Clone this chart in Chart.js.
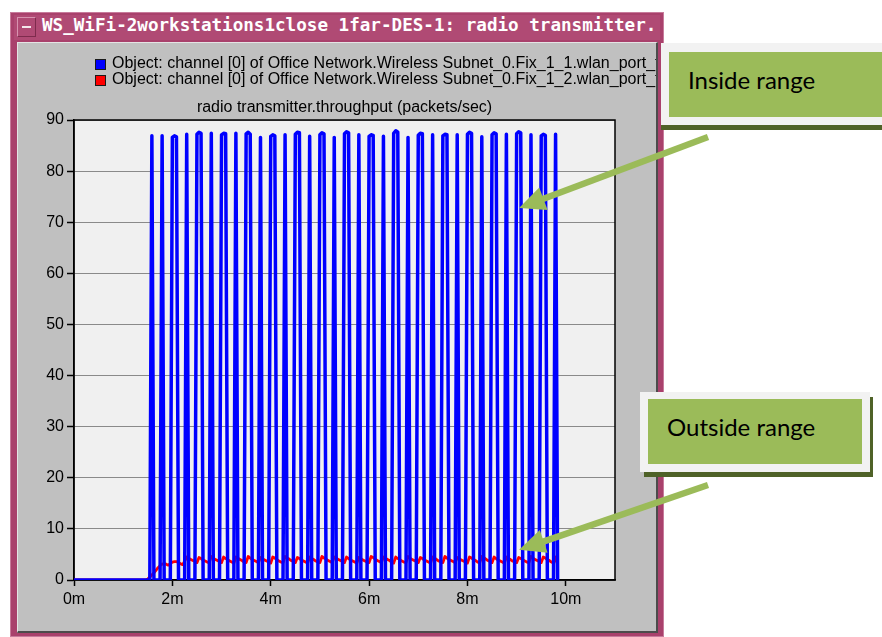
<!DOCTYPE html>
<html>
<head>
<meta charset="utf-8">
<script src="https://cdn.jsdelivr.net/npm/chart.js@4.4.1/dist/chart.umd.min.js"></script>
<style>
  html, body { margin: 0; padding: 0; background: #ffffff; }
  body { width: 882px; height: 637px; position: relative; overflow: hidden; }
  #frame { position: absolute; left: 10px; top: 12px; width: 654px; height: 625px; background: #a9416c; box-shadow: inset 0 0 0 1px #c77b9b; }
  #titlebar { position: absolute; left: 14px; top: 15px; width: 646px; height: 25px; background: #b04a74; overflow: hidden; }
  #titlebtn { position: absolute; left: 3px; top: 2px; width: 19px; height: 20px; box-sizing: border-box; border: 1px solid #d893b0; border-right-color: #7e2b4d; border-bottom-color: #7e2b4d; }
  #titlebtn::after { content: ""; position: absolute; left: 4px; top: 8px; width: 9px; height: 2px; background: #f4e6ec; }
  #titletext { position: absolute; left: 28px; top: 0; height: 25px; line-height: 25px; white-space: nowrap; color: #ffffff; font: bold 17.6px "DejaVu Sans Mono", monospace; }
  #panel { position: absolute; left: 17px; top: 42px; width: 641px; height: 591px; box-sizing: border-box; background: #c0c0c0; border-left: 1px solid #e4e4e4; border-top: 1px solid #e4e4e4; border-right: 2px solid #4c4c4c; border-bottom: 2px solid #4c4c4c; }
  #chart { position: absolute; left: 0; top: 0; }
  .shadow { position: absolute; background: #4f6228; }
  .plate { position: absolute; background: #f2f2f2; }
  .fill { position: absolute; background: #9bbb59; }
  .callout-text { position: absolute; white-space: nowrap; font: 24px "Lato", sans-serif; line-height: 24px; color: #000000; }
</style>
</head>
<body>
<div id="frame"></div>
<div id="titlebar"><div id="titlebtn"></div><div id="titletext">WS_WiFi-2workstations1close 1far-DES-1: radio transmitter.</div></div>
<div id="panel"></div>
<canvas id="chart" width="882" height="637"></canvas>

<!-- callout: inside range -->
<div class="shadow" style="left:661px; top:124px; width:221px; height:6px;"></div>
<div class="plate" style="left:661px; top:43px; width:221px; height:82px;"></div>
<div class="fill" style="left:669px; top:52px; width:213px; height:65px;"></div>
<div class="callout-text" style="left:688px; top:68px;">Inside range</div>

<!-- callout: outside range -->
<div class="shadow" style="left:644px; top:397px; width:229px; height:80px;"></div>
<div class="plate" style="left:640px; top:392px; width:230px; height:80px;"></div>
<div class="fill" style="left:648px; top:399px; width:214px; height:65px;"></div>
<div class="callout-text" style="left:667px; top:415px;">Outside range</div>

<script>
// Throughput samples, one every 2.5 s starting at 0 min (packets/sec)
const sampleSeconds = 2.5;

const seriesLabels = [
  'Object: channel [0] of Office Network.Wireless Subnet_0.Fix_1_1.wlan_port_tx_0_0',
  'Object: channel [0] of Office Network.Wireless Subnet_0.Fix_1_2.wlan_port_tx_0_0'
];

const chartTitle = 'radio transmitter.throughput (packets/sec)';

const xTickValues = [0, 2, 4, 6, 8, 10];
const xTickLabels = ['0m', '2m', '4m', '6m', '8m', '10m'];
const yTickValues = [0, 10, 20, 30, 40, 50, 60, 70, 80, 90];
const yTickLabels = ['0', '10', '20', '30', '40', '50', '60', '70', '80', '90'];

// Fix_1_1 (inside range), one row per 30 s
const insideValues = [
  0, 0, 0, 0, 0, 0, 0, 0, 0, 0, 0, 0,
  0, 0, 0, 0, 0, 0, 0, 0, 0, 0, 0, 0,
  0, 0, 0, 0, 0, 0, 0, 0, 0, 0, 0, 0,
  0, 0, 86.9, 0, 0, 0, 0, 86.9, 0, 0, 0, 0,
  86.6, 86.9, 86.7, 0, 0, 0, 0, 87.2, 0, 0, 0, 0,
  87.2, 87.6, 87.4, 0, 0, 0, 0, 87.4, 0, 0, 0, 0,
  87.1, 87.4, 87.3, 0, 0, 0, 0, 87.4, 0, 0, 0, 0,
  87.3, 87.6, 87.2, 0, 0, 0, 0, 86.6, 0, 0, 0, 0,
  86.8, 87.1, 86.9, 0, 0, 0, 0, 87.1, 0, 0, 0, 0,
  87.2, 87.6, 87.5, 0, 0, 0, 0, 86.8, 0, 0, 0, 0,
  87.1, 87.5, 87.3, 0, 0, 0, 0, 86.6, 0, 0, 0, 0,
  87.3, 87.7, 87.5, 0, 0, 0, 0, 87.1, 0, 0, 0, 0,
  86.8, 87.1, 87.0, 0, 0, 0, 0, 86.8, 0, 0, 0, 0,
  87.4, 87.9, 87.6, 0, 0, 0, 0, 86.6, 0, 0, 0, 0,
  87.0, 87.4, 87.3, 0, 0, 0, 0, 87.1, 0, 0, 0, 0,
  86.9, 87.2, 87.1, 0, 0, 0, 0, 87.1, 0, 0, 0, 0,
  87.2, 87.6, 87.4, 0, 0, 0, 0, 86.7, 0, 0, 0, 0,
  87.1, 87.5, 87.3, 0, 0, 0, 0, 87.2, 0, 0, 0, 0,
  87.3, 87.7, 87.5, 0, 0, 0, 0, 87.1, 0, 0, 0, 0,
  86.9, 87.2, 87.0, 0, 0, 0, 0, 87.2, 0
];

// Fix_1_2 (outside range), one row per 30 s
const outsideValues = [
  0, 0, 0, 0, 0, 0, 0, 0, 0, 0, 0, 0,
  0, 0, 0, 0, 0, 0, 0, 0, 0, 0, 0, 0,
  0, 0, 0, 0, 0, 0, 0, 0, 0, 0, 0, 0,
  0.2, 0.6, 1.0, 1.4, 1.9, 2.4, 2.8, 3.1, 3.2, 3.1, 2.9, 3.2,
  3.5, 3.6, 3.6, 3.4, 3.2, 3.0, 3.7, 4.5, 4.3, 4.0, 3.8, 3.6,
  3.4, 4.4, 4.2, 3.9, 3.7, 3.5, 3.4, 4.6, 4.3, 4.0, 3.8, 3.6,
  3.4, 4.5, 4.2, 4.0, 3.7, 3.5, 3.3, 4.5, 4.3, 4.0, 3.8, 3.5,
  3.4, 4.6, 4.3, 4.0, 3.8, 3.6, 3.4, 4.4, 4.2, 3.9, 3.7, 3.5,
  3.3, 4.5, 4.3, 4.0, 3.7, 3.5, 3.4, 4.6, 4.3, 4.1, 3.8, 3.6,
  3.4, 4.4, 4.2, 3.9, 3.7, 3.5, 3.3, 4.5, 4.2, 4.0, 3.7, 3.5,
  3.4, 4.6, 4.3, 4.1, 3.8, 3.6, 3.4, 4.5, 4.3, 4.0, 3.8, 3.6,
  3.4, 4.5, 4.2, 3.9, 3.7, 3.5, 3.3, 4.4, 4.2, 3.9, 3.7, 3.5,
  3.4, 4.6, 4.4, 4.1, 3.8, 3.6, 3.4, 4.5, 4.3, 4.0, 3.8, 3.5,
  3.3, 4.5, 4.2, 4.0, 3.7, 3.5, 3.4, 4.6, 4.3, 4.0, 3.8, 3.6,
  3.4, 4.4, 4.2, 3.9, 3.7, 3.5, 3.3, 4.5, 4.3, 4.0, 3.7, 3.5,
  3.4, 4.6, 4.3, 4.0, 3.8, 3.6, 3.4, 4.4, 4.2, 3.9, 3.7, 3.5,
  3.3, 4.5, 4.3, 4.0, 3.8, 3.5, 3.4, 4.6, 4.4, 4.1, 3.8, 3.6,
  3.4, 4.5, 4.2, 3.9, 3.7, 3.5, 3.3, 4.5, 4.2, 4.0, 3.7, 3.5,
  3.4, 4.4, 4.2, 4.0, 3.7, 3.5, 3.4, 4.6, 4.3, 4.0, 3.8, 3.6,
  3.4, 4.5, 4.3, 4.0, 3.8, 3.5, 3.3, 4.5, 3.0
];

// Points the callout arrows point at: [minutes, packets/sec]
const arrowTargets = [[9.05, 72.8], [9.05, 5.9]];

const toPoints = vals => vals.map((v, i) => ({ x: i * sampleSeconds / 60, y: v }));

Chart.defaults.font.family = '"Liberation Sans", Arial, sans-serif';
Chart.defaults.font.size = 16;
Chart.defaults.color = '#000000';

// light plot background and the black box around it
const plotFrame = {
  id: 'plotFrame',
  beforeDraw(chart) {
    const { ctx, chartArea: a } = chart;
    ctx.save();
    ctx.fillStyle = '#f0f0f0';
    ctx.fillRect(a.left, a.top, a.right - a.left, a.bottom - a.top);
    ctx.restore();
  },
  beforeDatasetsDraw(chart) {
    const { ctx, chartArea: a } = chart;
    ctx.save();
    ctx.strokeStyle = '#000000';
    ctx.lineWidth = 1.5;
    ctx.strokeRect(a.left, a.top, a.right - a.left, a.bottom - a.top);
    ctx.restore();
  }
};

// series key and the plot title, clipped to the window panel
const headerText = {
  id: 'headerText',
  afterDraw(chart) {
    const { ctx, chartArea: a } = chart;
    ctx.save();
    ctx.beginPath();
    ctx.rect(18, 43, 638, 587);
    ctx.clip();
    ctx.font = '16px "Liberation Sans", Arial, sans-serif';
    ctx.textBaseline = 'middle';
    chart.data.datasets.forEach((ds, i) => {
      const cy = 64 + i * 16;
      ctx.fillStyle = ds.borderColor;
      ctx.fillRect(95, cy - 5, 11, 11);
      ctx.strokeStyle = '#1a1a1a';
      ctx.lineWidth = 1;
      ctx.strokeRect(95.5, cy - 4.5, 10, 10);
      ctx.fillStyle = '#000000';
      ctx.textAlign = 'left';
      ctx.fillText(ds.label, 112, cy);
    });
    ctx.textAlign = 'center';
    ctx.fillText(chartTitle, (a.left + a.right) / 2, a.top - 12);
    ctx.restore();
  }
};

// green arrows from the callout boxes into the plot
const calloutArrows = {
  id: 'calloutArrows',
  afterDraw(chart) {
    const { ctx, scales: { x, y } } = chart;
    const tails = [[708, 137], [708, 485]];
    ctx.save();
    ctx.fillStyle = '#9bbb59';
    ctx.strokeStyle = '#9bbb59';
    arrowTargets.forEach((t, i) => {
      const tx = x.getPixelForValue(t[0]);
      const ty = y.getPixelForValue(t[1]);
      const [sx, sy] = tails[i];
      const len = Math.hypot(tx - sx, ty - sy);
      const ux = (tx - sx) / len, uy = (ty - sy) / len;
      const headLen = 26, halfW = 12;
      const bx = tx - ux * headLen, by = ty - uy * headLen;
      ctx.lineWidth = 6.5;
      ctx.lineCap = 'butt';
      ctx.beginPath();
      ctx.moveTo(sx, sy);
      ctx.lineTo(bx + ux * 2, by + uy * 2);
      ctx.stroke();
      ctx.beginPath();
      ctx.moveTo(tx, ty);
      ctx.lineTo(bx - uy * halfW, by + ux * halfW);
      ctx.lineTo(bx + uy * halfW, by - ux * halfW);
      ctx.closePath();
      ctx.fill();
    });
    ctx.restore();
  }
};

new Chart(document.getElementById('chart'), {
  type: 'line',
  data: {
    datasets: [
      {
        label: seriesLabels[0],
        data: toPoints(insideValues),
        borderColor: '#0000ff',
        backgroundColor: '#0000ff',
        borderWidth: 3.5,
        borderJoinStyle: 'round',
        borderCapStyle: 'round',
        pointRadius: 0,
        tension: 0
      },
      {
        label: seriesLabels[1],
        data: toPoints(outsideValues),
        borderColor: '#ff0000',
        backgroundColor: '#ff0000',
        borderWidth: 2.8,
        borderJoinStyle: 'round',
        borderCapStyle: 'round',
        pointRadius: 0,
        tension: 0
      }
    ]
  },
  options: {
    responsive: false,
    animation: false,
    devicePixelRatio: 1,
    layout: { padding: { left: 0, top: 120, right: 267, bottom: 0 } },
    plugins: {
      legend: { display: false },
      title: { display: false },
      tooltip: { enabled: false }
    },
    scales: {
      x: {
        type: 'linear',
        min: 0,
        max: 11,
        afterFit: s => { s.height = 57; },
        afterBuildTicks: s => { s.ticks = xTickValues.map(v => ({ value: v })); },
        ticks: {
          padding: 4,
          maxRotation: 0,
          autoSkip: false,
          callback: (v, i) => xTickLabels[i]
        },
        grid: { drawOnChartArea: false, drawTicks: true, tickLength: 6, tickColor: '#000000', tickWidth: 1.5 },
        border: { display: true, color: '#000000', width: 1.5 }
      },
      y: {
        min: 0,
        max: 90,
        afterFit: s => { s.width = 74; },
        afterBuildTicks: s => { s.ticks = yTickValues.map(v => ({ value: v })); },
        ticks: {
          padding: 3,
          autoSkip: false,
          callback: (v, i) => yTickLabels[i]
        },
        grid: { color: '#8a8a8a', lineWidth: 1, tickLength: 7, tickColor: '#000000', tickWidth: 1.5 },
        border: { display: true, color: '#000000', width: 1.5 }
      }
    }
  },
  plugins: [plotFrame, headerText, calloutArrows]
});
</script>
</body>
</html>
